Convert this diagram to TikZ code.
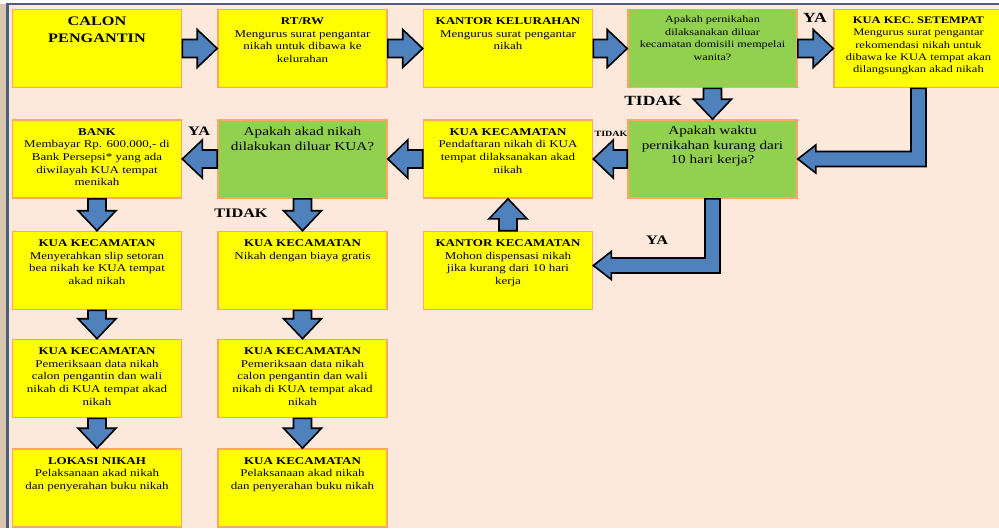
\documentclass[tikz,border=0pt]{standalone}
\usepackage{fontspec}
\setmainfont[FakeStretch=1.25]{Liberation Serif}
\usetikzlibrary{calc}

\definecolor{latar}{HTML}{FCE9DB}
\definecolor{kuning}{HTML}{FFFF00}
\definecolor{hijau}{HTML}{92D050}
\definecolor{oranye}{HTML}{F9A763}
\definecolor{biru}{HTML}{4F81BD}
\definecolor{bingkai}{HTML}{4A5F7E}
\definecolor{pinggir}{HTML}{D9C4AC}

\tikzset{
  kotak/.style={draw=oranye, line width=1.6pt, fill=kuning, minimum width=169pt, minimum height=78pt, inner sep=0pt},
  tanya/.style={kotak, fill=hijau},
  isi/.style={anchor=north, align=center, inner sep=0pt, font=\fontsize{10.4}{12.6}\selectfont},
  panahgaya/.style={fill=biru, draw=black, line width=1.6pt, line join=miter},
  ket/.style={font=\bfseries\fontsize{13}{15}\selectfont, inner sep=0pt},
}

% panah lurus dari #1 ke #2
\newcommand{\panah}[2]{%
  \coordinate (pk) at ($(#2)!20pt!(#1)$);
  \draw[panahgaya] ($(#1)!9pt!90:(#2)$) -- ($(pk)!9pt!90:(#2)$) -- ($(pk)!19pt!90:(#2)$) -- (#2)
    -- ($(pk)!19pt!-90:(#2)$) -- ($(pk)!9pt!-90:(#2)$) -- ($(#1)!9pt!-90:(#2)$) -- cycle;}
% panah siku: turun dari #1 lalu ke kiri sampai #2
\newcommand{\panahsiku}[2]{%
  \coordinate (siku) at (#1 |- #2);
  \draw[panahgaya] ($(#1)+(-7.5,0)$) -- ($(#1)+(7.5,0)$) -- ($(siku)+(7.5,7.5)$) -- ($(#2)+(18,7.5)$)
    -- ($(#2)+(18,14)$) -- (#2) -- ($(#2)+(18,-14)$) -- ($(#2)+(18,-7.5)$) -- ($(siku)+(-7.5,-7.5)$) -- cycle;}

\begin{document}
\begin{tikzpicture}[x=1pt,y=-1pt]
\clip (0,0) rectangle (999,528);
\fill[white] (0,0) rectangle (999,528);
\fill[pinggir] (0,4) rectangle (7,528);
\fill[latar] (7,4) rectangle (999,528);
\draw[bingkai, line width=2.5pt] (7.5,528) -- (7.5,4) -- (999,4);

% baris 1
\node[kotak] (calon) at (97,48.5) {};
\node[kotak] (rtrw) at (302.5,48.5) {};
\node[kotak] (kelurahan) at (508,48.5) {};
\node[tanya] (tanya1) at (712.5,48.5) {};
\node[kotak] (setempat) at (918.5,48.5) {};
% baris 2
\node[kotak] (bank) at (97,159) {};
\node[tanya] (tanya2) at (302.5,159) {};
\node[kotak] (daftar) at (508,159) {};
\node[tanya] (tanya3) at (712.5,159) {};
% baris 3 - 5
\node[kotak] (kantorkec) at (508,270.5) {};
\node[kotak] (slip) at (97,270.5) {};
\node[kotak] (gratis) at (302.5,270.5) {};
\node[kotak] (periksa1) at (97,378.5) {};
\node[kotak] (periksa2) at (302.5,378.5) {};
\node[kotak] (lokasi) at (97,488) {};
\node[kotak] (akad) at (302.5,488) {};

% isi kotak
\node[isi, font=\bfseries\fontsize{13}{16.5}\selectfont] at ([yshift=-8pt]calon.north) {CALON\\PENGANTIN};
\node[isi] at ([yshift=-9pt]rtrw.north) {\textbf{RT/RW}\\Mengurus surat pengantar\\nikah untuk dibawa ke\\kelurahan};
\node[isi] at ([yshift=-9pt]kelurahan.north) {\textbf{KANTOR KELURAHAN}\\Mengurus surat pengantar\\nikah};
\node[isi, font=\fontsize{9.7}{12.5}\selectfont] at ([yshift=-7pt]tanya1.north) {Apakah pernikahan\\dilaksanakan diluar\\kecamatan domisili mempelai\\wanita?};
\node[isi, font=\fontsize{10}{12.3}\selectfont] at ([yshift=-8pt]setempat.north) {\textbf{KUA KEC. SETEMPAT}\\Mengurus surat pengantar\\rekomendasi nikah untuk\\dibawa ke KUA tempat akan\\dilangsungkan akad nikah};
\node[isi] at ([yshift=-9pt]bank.north) {\textbf{BANK}\\Membayar Rp. 600.000,- di\\Bank Persepsi* yang ada\\diwilayah KUA tempat\\menikah};
\node[isi, font=\fontsize{12.2}{14.5}\selectfont] at ([yshift=-8pt]tanya2.north) {Apakah akad nikah\\dilakukan diluar KUA?};
\node[isi] at ([yshift=-9pt]daftar.north) {\textbf{KUA KECAMATAN}\\Pendaftaran nikah di KUA\\tempat dilaksanakan akad\\nikah};
\node[isi, font=\fontsize{12.2}{14.5}\selectfont] at ([yshift=-7pt]tanya3.north) {Apakah waktu\\pernikahan kurang dari\\10 hari kerja?};
\node[isi] at ([yshift=-9pt]kantorkec.north) {\textbf{KANTOR KECAMATAN}\\Mohon dispensasi nikah\\jika kurang dari 10 hari\\kerja};
\node[isi] at ([yshift=-9pt]slip.north) {\textbf{KUA KECAMATAN}\\Menyerahkan slip setoran\\bea nikah ke KUA tempat\\akad nikah};
\node[isi] at ([yshift=-9pt]gratis.north) {\textbf{KUA KECAMATAN}\\Nikah dengan biaya gratis};
\node[isi] at ([yshift=-9pt]periksa1.north) {\textbf{KUA KECAMATAN}\\Pemeriksaan data nikah\\calon pengantin dan wali\\nikah di KUA tempat akad\\nikah};
\node[isi] at ([yshift=-9pt]periksa2.north) {\textbf{KUA KECAMATAN}\\Pemeriksaan data nikah\\calon pengantin dan wali\\nikah di KUA tempat akad\\nikah};
\node[isi] at ([yshift=-9pt]lokasi.north) {\textbf{LOKASI NIKAH}\\Pelaksanaan akad nikah\\dan penyerahan buku nikah};
\node[isi] at ([yshift=-9pt]akad.north) {\textbf{KUA KECAMATAN}\\Pelaksanaan akad nikah\\dan penyerahan buku nikah};

% panah
\panah{calon.east}{rtrw.west}
\panah{rtrw.east}{kelurahan.west}
\panah{kelurahan.east}{tanya1.west}
\panah{tanya1.east}{setempat.west}
\panah{tanya1.south}{tanya3.north}
\panahsiku{setempat.south}{tanya3.east}
\panah{tanya3.west}{daftar.east}
\panah{daftar.west}{tanya2.east}
\panah{tanya2.west}{bank.east}
\coordinate (ujungya) at ([yshift=5pt]kantorkec.east);
\panahsiku{tanya3.south}{ujungya}
\panah{kantorkec.north}{daftar.south}
\panah{bank.south}{slip.north}
\panah{tanya2.south}{gratis.north}
\panah{slip.south}{periksa1.north}
\panah{gratis.south}{periksa2.north}
\panah{periksa1.south}{lokasi.north}
\panah{periksa2.south}{akad.north}

% keterangan
\node[ket, font=\bfseries\fontsize{14}{16}\selectfont] (ya1) at (815,18) {YA};
\node[ket, font=\bfseries\fontsize{14}{16}\selectfont] (tidak1) at (653,101) {TIDAK};
\node[ket] (ya2) at (199,131) {YA};
\node[ket, font=\bfseries\fontsize{8}{9}\selectfont] (tidak2) at (611,134) {TIDAK};
\node[ket] (tidak3) at (241,213) {TIDAK};
\node[ket] (ya3) at (657,240) {YA};
\end{tikzpicture}
\end{document}
